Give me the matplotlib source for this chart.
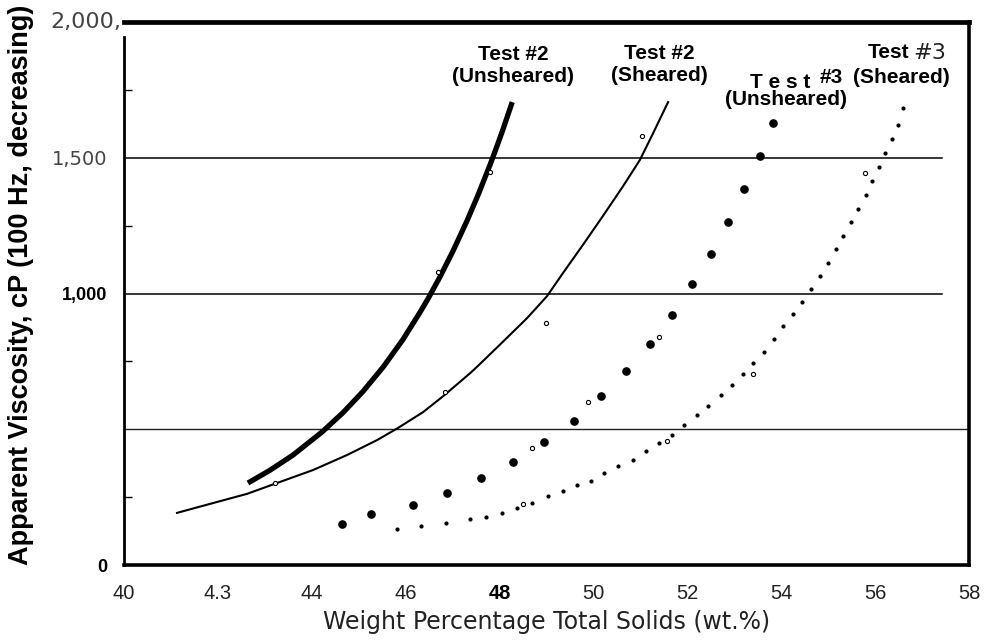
import matplotlib
matplotlib.use("Agg")
import matplotlib.pyplot as plt

# ---------------- data ----------------
t2_unsheared_x = [42.64, 43.11, 43.60, 44.22, 44.67, 45.09, 45.52, 45.94, 46.31, 46.48,
                  46.73, 47.01, 47.31, 47.54, 47.80, 47.95, 48.07, 48.27]
t2_unsheared_y = [302, 349, 405, 490, 562, 639, 729, 830, 932, 982,
                  1061, 1157, 1269, 1362, 1475, 1545, 1603, 1705]

t2_sheared_x = [41.13, 41.83, 42.62, 43.26, 44.03, 44.75, 45.39, 45.82, 46.37, 46.80,
                47.37, 47.52, 48.07, 48.59, 49.01, 49.35, 49.78, 50.20, 50.63, 50.99,
                51.27, 51.59]
t2_sheared_y = [192, 225, 262, 302, 350, 405, 460, 503, 563, 622,
                706, 730, 822, 910, 990, 1075, 1180, 1285, 1395, 1492,
                1590, 1705]

t3_unsheared_x = [44.64, 45.26, 46.16, 46.88, 47.61, 48.29, 48.95, 49.59, 50.16, 50.69,
                  51.21, 51.67, 52.10, 52.51, 52.87, 53.21, 53.55, 53.83]
t3_unsheared_y = [151, 188, 221, 265, 320, 379, 453, 530, 622, 715,
                  814, 921, 1035, 1145, 1263, 1385, 1506, 1628]

t3_sheared_x = [45.82, 46.33, 46.86, 47.37, 47.71, 48.05, 48.37, 48.69, 49.03, 49.35,
                49.65, 49.95, 50.23, 50.52, 50.84, 51.12, 51.40, 51.67, 51.93, 52.21,
                52.44, 52.72, 52.95, 53.19, 53.40, 53.64, 53.85, 54.04, 54.25, 54.44,
                54.64, 54.83, 55.00, 55.17, 55.32, 55.49, 55.64, 55.81, 55.94, 56.08,
                56.21, 56.36, 56.49, 56.60]
t3_sheared_y = [133, 144, 155, 169, 177, 192, 210, 228, 254, 273,
                295, 309, 339, 365, 387, 420, 449, 479, 516, 552,
                586, 626, 663, 703, 744, 785, 832, 880, 924, 969,
                1017, 1064, 1112, 1164, 1212, 1263, 1311, 1363, 1414, 1466,
                1517, 1569, 1621, 1683]

open_pts_x = [43.22, 46.84, 48.99, 51.04, 47.80, 46.69, 48.50, 51.57, 51.40, 55.79, 53.40, 48.69, 49.88]
open_pts_y = [302, 637, 891, 1580, 1447, 1079, 225, 457, 840, 1444, 703, 431, 600]

x_tick_values = [40, 42, 44, 46, 48, 50, 52, 54, 56, 58]
x_tick_labels = ["40", "4.3", "44", "46", "48", "50", "52", "54", "56", "58"]
y_tick_values = [0, 1000, 1500]
y_tick_labels = ["0", "1,000", "1,500"]
y_top_label = "2,000,"

# ---------------- figure ----------------
fig = plt.figure(figsize=(9.91, 6.41), dpi=100)
ax = fig.add_axes([124/991, 1-565/641, (969-124)/991, (565-22)/641])
ax.set_xlim(40, 58)
ax.set_ylim(0, 2000)

# gridlines
ax.axhline(1500, xmin=0, xmax=0.968, color="black", lw=1.1, zorder=1)
ax.axhline(1000, xmin=0, xmax=0.968, color="black", lw=1.1, zorder=1)
ax.axhline(500, xmin=0, xmax=1, color="#222222", lw=1.0, zorder=1)

# curves
ax.plot(t2_unsheared_x, t2_unsheared_y, color="black", lw=3.8, solid_capstyle="butt",
        solid_joinstyle="round", zorder=3)
ax.plot(t2_sheared_x, t2_sheared_y, color="black", lw=1.5, solid_joinstyle="round", zorder=3)
ax.plot(t3_unsheared_x, t3_unsheared_y, ls="none", marker="o", ms=5.2, color="black", zorder=3)
ax.plot(t3_sheared_x, t3_sheared_y, ls="none", marker="o", ms=2.0, color="black", zorder=3)
ax.plot(open_pts_x, open_pts_y, ls="none", marker="o", ms=3.0, mfc="white", mec="black",
        mew=0.8, zorder=4)

# spines
for s in ["left", "bottom", "right", "top"]:
    ax.spines[s].set_color("black")
ax.spines["left"].set_linewidth(2.0)
ax.spines["bottom"].set_linewidth(2.6)
ax.spines["right"].set_linewidth(2.6)
ax.spines["top"].set_linewidth(3.4)
ax.spines["left"].set_bounds(0, 1945)

sans = ["Liberation Sans", "DejaVu Sans"]

# x ticks
ax.set_xticks(x_tick_values)
ax.set_xticklabels(x_tick_labels)
ax.tick_params(axis="x", which="major", length=0, pad=14, labelsize=14.5, labelcolor="#222222")
for lab in ax.get_xticklabels():
    lab.set_family(sans)
    if lab.get_text() == "48":
        lab.set_fontweight("bold")
        lab.set_color("black")
ax.set_xticks([42, 44, 48, 50, 52, 54, 56], minor=True)
ax.tick_params(axis="x", which="minor", direction="in", length=10, width=1.0)

# y ticks
ax.set_yticks(y_tick_values)
ax.set_yticklabels(y_tick_labels)
ax.tick_params(axis="y", which="major", length=0, pad=12)
for lab in ax.get_yticklabels():
    t = lab.get_text()
    if t in ("0", "1,000"):
        lab.set_fontweight("bold")
        lab.set_family(sans)
        lab.set_color("black")
        lab.set_fontsize(13)
    else:
        lab.set_family(["DejaVu Sans"])
        lab.set_color("#444444")
        lab.set_fontsize(14)
ax.set_yticks([250, 750, 1250, 1750], minor=True)
ax.tick_params(axis="y", which="minor", direction="in", length=6, width=1.0)
ax.text(-0.003, 2000, y_top_label, transform=ax.get_yaxis_transform(), ha="right", va="center",
        fontsize=16, color="#444444", family=["DejaVu Sans"])

# axis labels
fig.text(21/991, 1-285/641, "Apparent Viscosity, cP (100 Hz, decreasing)", rotation=90,
         ha="center", va="center", fontsize=19.5, fontweight="bold", family=sans)
ax.set_xlabel("Weight Percentage Total Solids (wt.%)", fontsize=17, color="#222222",
              family=["DejaVu Sans"], labelpad=5)

# curve labels
lbl = dict(fontsize=15, fontweight="bold", family=sans, ha="center", va="center", linespacing=1.2)
ax.text(48.29, 1840, "Test #2\n(Unsheared)", **lbl)
ax.text(51.40, 1842, "Test #2\n(Sheared)", **lbl)
ax.text(53.98, 1779, "T e s t", **lbl)
ax.text(55.06, 1794, "#3", **lbl)
ax.text(54.10, 1713, "(Unsheared)", **lbl)
ax.text(56.74, 1886, "Test", fontsize=15, fontweight="bold", family=sans, ha="right", va="center")
ax.text(56.81, 1886, "#3", fontsize=16, family=["DejaVu Sans"], color="#222222",
        ha="left", va="center")
ax.text(56.55, 1794, "(Sheared)", **lbl)

fig.savefig("out.png", dpi=100)
